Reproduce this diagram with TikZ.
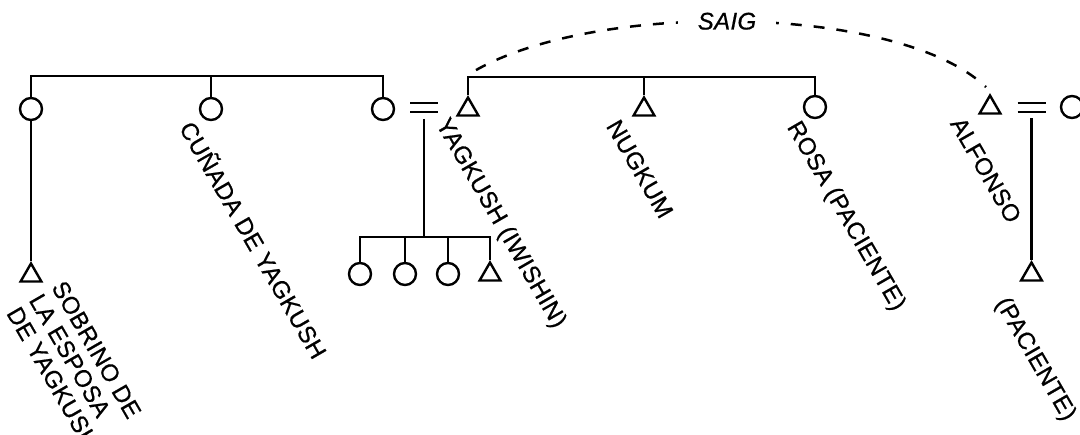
\documentclass[tikz,border=0pt]{standalone}
\usepackage{fontspec}
\setmainfont{Liberation Sans}[FakeBold=0.7,LetterSpace=1.5]
\usetikzlibrary{shapes.geometric}
\begin{document}
\begin{tikzpicture}[x=1pt,y=-1pt,line width=2.6pt,
  fem/.style={circle,draw,line width=2.4pt,minimum size=22pt,inner sep=0pt},
  mas/.style={regular polygon,regular polygon sides=3,draw,line width=2.4pt,minimum size=24pt,inner sep=0pt},
  nombre/.style={font=\fontsize{24}{26}\selectfont,rotate=-60,anchor=base west,inner sep=0pt},
  saig/.style={dash pattern=on 11pt off 12pt,line width=2.5pt}]
\useasboundingbox (0,0) rectangle (1080,435);
\node[fem] (tia) at (31,109) {};
\node[fem] (cunada) at (211,109) {};
\node[fem] (esposa) at (383,109) {};
\node[mas] (yagkush) at (468,109.5) {};
\node[mas] (nugkum) at (644,109.5) {};
\node[fem] (rosa) at (815,107) {};
\node[mas] (alfonso) at (990,107.5) {};
\node[fem] (mujerAlf) at (1072,107) {};
\node[mas] (sobrino) at (31,275.5) {};
\node[fem] (hijaA) at (360,274) {};
\node[fem] (hijaB) at (405,274) {};
\node[fem] (hijaC) at (448,274) {};
\node[mas] (hijoD) at (490,274.5) {};
\node[mas] (hijoAlf) at (1031.5,274.5) {};
\coordinate (barI) at (0,76);
\coordinate (barD) at (0,77);
\coordinate (barH) at (0,237);
\coordinate (casA) at (424,107.5);
\coordinate (casB) at (1031.5,107.5);
\draw (tia.north) -- (tia.north |- barI) -- (esposa.north |- barI) -- (esposa.north);
\draw (cunada.north) -- (cunada.north |- barI);
\draw (yagkush.north) -- (yagkush.north |- barD) -- (rosa.north |- barD) -- (rosa.north);
\draw (nugkum.north) -- (nugkum.north |- barD);
\draw (tia.south) -- (sobrino.north);
\foreach \c in {casA,casB}
  \foreach \s in {4.5,-4.5}
    \draw ([xshift=-14pt,yshift=\s pt]\c) -- ([xshift=14pt,yshift=\s pt]\c);
\draw ([yshift=-11.5pt]casA) -- (casA |- barH);
\draw (hijaA.north) -- (hijaA.north |- barH) -- (hijoD.north |- barH) -- (hijoD.north);
\foreach \n in {hijaB,hijaC}
  \draw (\n.north) -- (\n.north |- barH);
\draw ([yshift=-11pt]casB) -- (hijoAlf.north);
\draw[saig] ([shift={(8,-25)}]yagkush.north) .. controls (600,0) and (900,5) .. ([shift={(-4,-6)}]alfonso.north)
  node[pos=0.47,fill=white,inner xsep=20pt,inner ysep=3pt,font=\fontsize{24}{26}\selectfont\itshape] (lsaig) {SAIG};
\node[nombre,anchor=west,align=left] (lsobrino) at (35,295) {SOBRINO DE\\LA ESPOSA\\DE YAGKUSH};
\node[nombre] (lcunada) at (178,127) {CUÑADA DE YAGKUSH};
\node[nombre] (lyagkush) at (435,123) {YAGKUSH (IWISHIN)};
\node[nombre] (lnugkum) at (605,125) {NUGKUM};
\node[nombre] (lrosa) at (786,126) {ROSA (PACIENTE)};
\node[nombre] (lalfonso) at (949,122.5) {ALFONSO};
\node[nombre] (lpaciente) at (994.5,302) {(PACIENTE)};
\end{tikzpicture}
\end{document}
